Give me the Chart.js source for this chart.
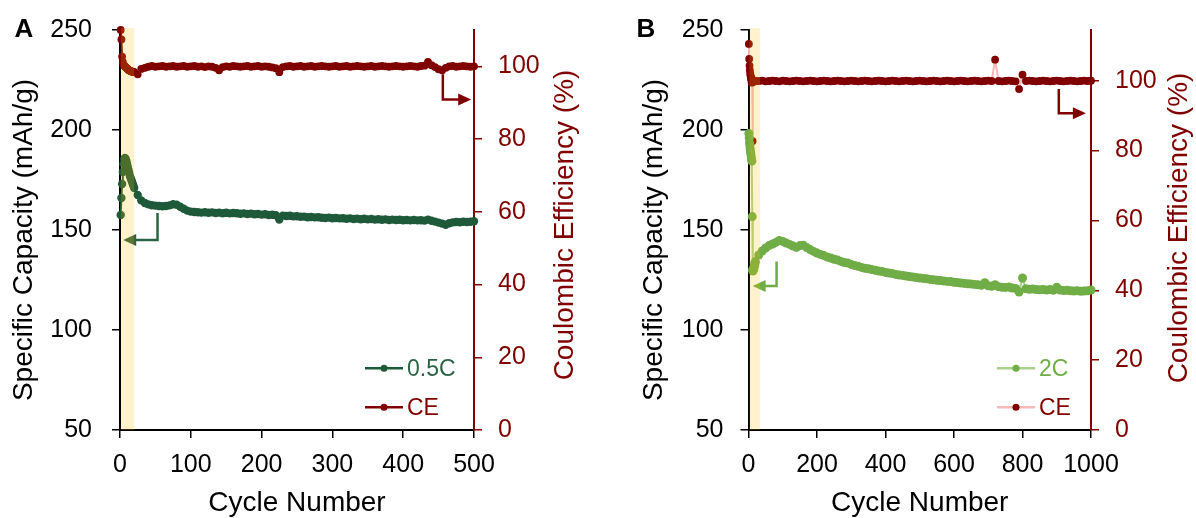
<!DOCTYPE html>
<html>
<head>
<meta charset="utf-8">
<script src="https://cdn.jsdelivr.net/npm/chart.js@4.4.1/dist/chart.umd.min.js"></script>
<style>
  html, body { margin: 0; padding: 0; background: #fff; }
  .wrap { display: flex; width: 1196px; height: 518px; }
</style>
</head>
<body>
<div class="wrap">
  <canvas id="chartA" width="598" height="518"></canvas>
  <canvas id="chartB" width="598" height="518"></canvas>
</div>
<script>
// panel A: 0.5C cycling, 500 cycles
const cyclesA = [1,2,3,4,5,6,7,8,9,10,11,12,13,14,15,16,17,18,19,20,
  25,30,35,40,45,50,55,60,65,70, 75,80,85,90,95,100,105,110,115,120,
  125,130,135,140,145,150,155,160,165,170, 175,180,185,190,195,200,205,210,215,220,
  225,230,235,240,245,250,255,260,265,270, 275,280,285,290,295,300,305,310,315,320,
  325,330,335,340,345,350,355,360,365,370, 375,380,385,390,395,400,405,410,415,420,
  425,430,435,440,445,450,455,460,465,470, 475,480,485,490,495,500];
const capA = [157.5,166,173,179,183,185.5,186,185.5,184.5,183,181.5,180,178.5,177,176,175,174,173,172,171,
  167.5,164.8,163.5,162.8,162.4,162.2,162.0,161.9,162.0,162.3,
  162.9,162.6,161.6,160.6,159.7,159.2,159.0,158.9,158.7,158.9,
  158.6,158.8,158.5,158.7,158.4,158.6,158.3,158.5,158.4,158.1,
  158.3,158.0,158.2,157.9,158.0,157.7,157.9,157.5,157.6,157.4,
  155.2,157.2,157.0,157.1,156.8,156.9,156.6,156.7,156.4,156.5,
  156.3,156.4,156.1,156.0,156.2,155.9,156.0,155.8,155.9,155.6,
  155.8,155.5,155.7,155.4,155.6,155.3,155.5,155.2,155.4,155.1,
  155.3,155.0,155.2,155.0,155.1,154.9,155.0,154.8,155.0,154.8,
  154.9,154.7,155.2,154.6,154.2,153.7,153.2,152.6,153.4,153.8,
  154.0,153.9,154.1,154.0,154.1,154.4];
const ceA = [110,107.4,102.7,101.2,100.5,100.2,100,99.8,99.6,99.4,99.2,99,98.9,98.8,98.7,98.6,98.6,98.5,98.4,98.5,
  97.8,99.3,99.6,99.9,100.1,99.9,100.0,100.1,99.9,100.0,
  100.1,99.9,100.0,100.1,99.9,100.0,100.1,99.9,100.0,99.8,
  100.0,99.9,99.6,98.9,99.8,100.0,99.9,100.1,100.0,99.9,
  100.0,100.1,99.9,100.0,100.1,99.9,100.0,99.9,99.7,99.5,
  98.4,99.8,100.0,100.1,99.9,100.0,100.1,99.9,100.0,100.1,
  99.9,100.0,100.1,100.0,99.9,100.0,100.1,99.9,100.0,100.1,
  99.9,100.0,100.1,100.0,99.9,100.0,100.1,99.9,100.0,100.1,
  100.0,99.9,100.0,100.1,100.0,99.9,100.0,100.1,100.0,99.9,
  100.1,100.2,101.2,100.3,99.8,99.2,98.9,99.6,100.0,100.1,
  99.9,100.0,100.1,100.0,99.9,100.0];

// panel B: 2C cycling, 1000 cycles
const cyclesB = [1,2,3,4,5,6,7,8,9,10,11,12,13,14,15,16,17,18,19,20,
  30,40,50,60,70,80,90,100,110,120, 130,140,150,160,170,180,190,200,210,220,
  230,240,250,260,270,280,290,300,310,320, 330,340,350,360,370,380,390,400,410,420,
  430,440,450,460,470,480,490,500,510,520, 530,540,550,560,570,580,590,600,610,620,
  630,640,650,660,670,680,690,700,710,720, 730,740,750,760,770,780,790,800,810,820,
  830,840,850,860,870,880,890,900,910,920, 930,940,950,960,970,980,990,1000];
const capB = [198.3,196,193.5,192,190.5,189,188,186.5,185,184.5,156.7,130,129.5,130,130.5,131.2,132,132.8,133.5,134.2,
  137.5,139.5,141.0,142.2,143.0,143.8,144.8,144.3,143.5,142.8,
  142.0,141.3,142.2,142.4,141.2,140.2,139.3,138.5,137.8,137.2,
  136.5,136.0,135.4,135.0,134.3,133.7,133.5,132.8,132.2,131.9,
  131.3,130.9,130.6,130.2,129.9,129.5,129.2,128.8,128.5,128.2,
  127.8,127.5,127.3,127.0,126.7,126.5,126.2,126.0,125.8,125.6,
  125.3,125.1,124.9,124.7,124.5,124.3,124.2,123.9,123.7,123.5,
  123.3,123.1,123.0,122.8,122.6,122.4,123.6,122.1,121.9,122.6,
  121.6,121.4,121.3,121.5,121.0,120.8,119.0,126.0,120.6,120.4,
  120.5,120.2,120.1,120.3,120.0,120.2,119.9,121.4,120.0,119.7,
  119.9,119.6,119.5,119.6,119.4,119.5,119.6,120.0];
const ceB = [110.5,106.2,104.3,103,102,101.4,100.5,101,99.5,100,99.5,82.7,100,99.8,99.9,100,99.9,100,99.9,99.8,
  99.9,100.0,99.8,99.9,100.0,99.9,99.8,100.0,99.9,99.8,
  99.9,100.0,99.9,99.8,99.9,100.0,99.9,99.8,99.9,100.0,
  99.9,99.8,99.9,100.0,99.9,99.8,99.9,100.0,99.9,99.8,
  99.9,100.0,99.9,99.8,99.9,100.0,99.9,99.8,99.9,100.0,
  99.9,99.8,99.9,100.0,99.9,99.8,99.9,100.0,99.9,99.8,
  99.9,100.0,99.9,99.8,99.9,100.0,99.9,99.8,99.9,100.0,
  99.9,99.8,99.9,100.0,99.9,99.8,99.9,100.0,99.9,106.0,
  99.9,99.8,99.9,100.0,99.9,99.8,97.6,101.7,99.9,100.0,
  99.9,99.8,99.9,100.0,99.9,99.8,99.9,100.0,99.9,99.8,
  99.9,100.0,99.9,99.8,99.9,100.0,99.9,100.0];

const FONT = "'Liberation Sans', Arial, sans-serif";
const RED = '#800000';

// band, arrows, legend, vertical titles and panel letter
const decor = {
  id: 'decor',
  afterDatasetsDraw(chart, args, o) {
    const { ctx, chartArea: ca, scales } = chart;
    const sx = scales.x;
    ctx.save();
    o.arrows.forEach(a => {
      const sy = scales[a.axis];
      const px = sx.getPixelForValue(a.x);
      const top = sy.getPixelForValue(a.from);
      const bot = sy.getPixelForValue(a.to);
      const tip = sx.getPixelForValue(a.tip);
      const dir = tip > px ? 1 : -1;
      ctx.strokeStyle = a.color;
      ctx.fillStyle = a.color;
      ctx.lineWidth = 2.5;
      ctx.beginPath();
      ctx.moveTo(px, top);
      ctx.lineTo(px, bot);
      ctx.lineTo(tip - dir * 10, bot);
      ctx.stroke();
      ctx.beginPath();
      ctx.moveTo(tip, bot);
      ctx.lineTo(tip - dir * 13, bot - 6);
      ctx.lineTo(tip - dir * 13, bot + 6);
      ctx.closePath();
      ctx.fill();
    });
    const b0 = sx.getPixelForValue(o.band[0]) + 1;
    const b1 = sx.getPixelForValue(o.band[1]);
    ctx.fillStyle = 'rgba(255, 192, 0, 0.2)';
    ctx.fillRect(b0, ca.top - 2, b1 - b0, ca.bottom - ca.top + 2);
    ctx.restore();
  },
  afterDraw(chart, args, o) {
    const { ctx, chartArea: ca } = chart;
    ctx.save();
    // legend
    const lx = ca.right - o.legendRight;
    chart.data.datasets.forEach((ds, i) => {
      const ly = ca.bottom - o.legendRows[i];
      ctx.strokeStyle = ds.borderColor;
      ctx.lineWidth = 2.5;
      ctx.beginPath();
      ctx.moveTo(lx, ly);
      ctx.lineTo(lx + 38, ly);
      ctx.stroke();
      ctx.fillStyle = ds.pointBackgroundColor;
      ctx.beginPath();
      ctx.arc(lx + 19, ly, 3.5, 0, Math.PI * 2);
      ctx.fill();
      ctx.fillStyle = o.legendText[i];
      ctx.font = '23px ' + FONT;
      ctx.textAlign = 'left';
      ctx.textBaseline = 'middle';
      ctx.fillText(ds.label, lx + 42, ly + 1);
    });
    // vertical axis titles
    o.titles.forEach(t => {
      ctx.save();
      ctx.translate(t.x, t.y);
      ctx.rotate(-Math.PI / 2);
      ctx.textAlign = 'center';
      ctx.textBaseline = 'middle';
      ctx.fillStyle = t.color;
      ctx.font = '28px ' + FONT;
      ctx.fillText(t.text, 0, 0);
      ctx.restore();
    });
    // panel letter
    ctx.fillStyle = '#000';
    ctx.font = 'bold 26px ' + FONT;
    ctx.textAlign = 'center';
    ctx.textBaseline = 'alphabetic';
    ctx.fillText(o.letter.text, o.letter.x, 37);
    ctx.restore();
  }
};

function tickGrid(color) {
  return { display: true, drawOnChartArea: false, drawTicks: true, tickLength: 8, color: color, lineWidth: 1.5 };
}

// fixed axis box so the plot area sits where it does in the figure
function fixWidth(w) {
  return s => { s.width = w; s.paddingTop = 10; s.paddingBottom = 10; };
}

function makeChart(id, c) {
  return new Chart(document.getElementById(id), {
    type: 'line',
    data: {
      datasets: [
        {
          label: c.capLabel,
          data: c.cycles.map((n, i) => ({ x: n, y: c.cap[i] })),
          yAxisID: 'y',
          borderColor: c.capLine,
          backgroundColor: c.capPoint,
          pointBackgroundColor: c.capPoint,
          pointBorderWidth: 0,
          pointRadius: c.capRadius,
          borderWidth: 2,
          clip: false
        },
        {
          label: 'CE',
          data: c.cycles.map((n, i) => ({ x: n, y: c.ce[i] })),
          yAxisID: 'y1',
          borderColor: c.ceLine,
          backgroundColor: RED,
          pointBackgroundColor: RED,
          pointBorderWidth: 0,
          pointRadius: 3.9,
          borderWidth: 2,
          clip: false
        }
      ]
    },
    options: {
      responsive: false,
      animation: false,
      devicePixelRatio: 1,
      layout: { autoPadding: false, padding: { top: 30, right: 0, bottom: 0, left: 0 } },
      plugins: {
        legend: { display: false },
        tooltip: { enabled: false },
        decor: c.decor
      },
      scales: {
        x: {
          type: 'linear',
          min: 0,
          max: c.xMax,
          afterFit: s => { s.height = 88; },
          ticks: { stepSize: c.xStep, color: '#000', font: { size: 25, family: FONT }, padding: 12, maxRotation: 0, callback: v => String(v) },
          grid: tickGrid('#000'),
          border: { display: true, color: '#000', width: 2 },
          title: { display: true, text: 'Cycle Number', color: '#000', font: { size: 28, family: FONT, lineHeight: 1 }, padding: { top: 0, bottom: 1 } }
        },
        y: {
          position: 'left',
          min: 50,
          max: 250,
          afterFit: fixWidth(c.yWidth),
          ticks: { stepSize: 50, color: '#000', font: { size: 25, family: FONT }, padding: c.yPad },
          grid: tickGrid('#000'),
          border: { display: true, color: '#000', width: 2 }
        },
        y1: {
          position: 'right',
          min: 0,
          max: c.ceMax,
          afterFit: fixWidth(c.y1Width),
          ticks: { stepSize: 20, includeBounds: false, color: RED, font: { size: 25, family: FONT }, padding: 16 },
          grid: tickGrid(RED),
          border: { display: true, color: RED, width: 2 }
        }
      }
    },
    plugins: [decor]
  });
}

makeChart('chartA', {
  cycles: cyclesA, cap: capA, ce: ceA,
  capLabel: '0.5C', capLine: '#1e5a3a', capPoint: '#1e5a3a', capRadius: 4.2, ceLine: RED,
  xMax: 500, xStep: 100, ceMax: 110,
  yWidth: 120, y1Width: 124, yPad: 20,
  decor: {
    band: [0, 20],
    arrows: [
      { axis: 'y', x: 53, from: 158.5, to: 145, tip: 4.5, color: '#2b6444' },
      { axis: 'y1', x: 456, from: 97.8, to: 90.9, tip: 496, color: RED }
    ],
    legendRight: 109,
    legendRows: [61.7, 22.7],
    legendText: ['#2b6444', RED],
    titles: [
      { text: 'Specific Capacity (mAh/g)', x: 24, y: 240, color: '#000' },
      { text: 'Coulombic Efficiency (%)', x: 565, y: 225, color: RED }
    ],
    letter: { text: 'A', x: 24 }
  }
});

makeChart('chartB', {
  cycles: cyclesB, cap: capB, ce: ceB,
  capLabel: '2C', capLine: '#a9d18e', capPoint: '#70ad47', capRadius: 4.5, ceLine: '#f4b8b8',
  xMax: 1000, xStep: 200, ceMax: 114.5,
  yWidth: 150.5, y1Width: 105, yPad: 17,
  decor: {
    band: [0, 34],
    arrows: [
      { axis: 'y', x: 82, from: 134.2, to: 122, tip: 12, color: '#70ad47' },
      { axis: 'y1', x: 906, from: 97.6, to: 90.7, tip: 985, color: RED }
    ],
    legendRight: 94,
    legendRows: [61.7, 22.7],
    legendText: ['#70ad47', RED],
    titles: [
      { text: 'Specific Capacity (mAh/g)', x: 56, y: 240, color: '#000' },
      { text: 'Coulombic Efficiency (%)', x: 581, y: 228, color: RED }
    ],
    letter: { text: 'B', x: 48 }
  }
});
</script>
</body>
</html>
